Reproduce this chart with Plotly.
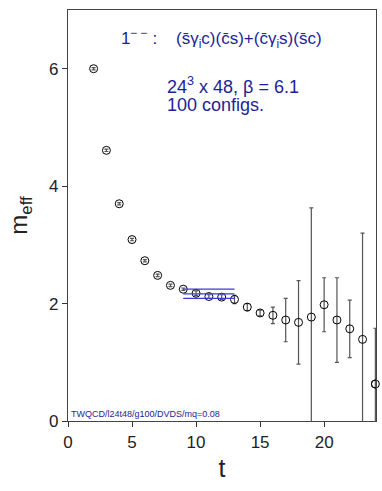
import plotly.graph_objects as go

# effective mass data
t = list(range(2, 25))
m_eff = [6.00, 4.61, 3.70, 3.09, 2.73, 2.48, 2.31, 2.245, 2.175, 2.12, 2.11, 2.07,
         1.94, 1.84, 1.80, 1.72, 1.68, 1.77, 1.98, 1.72, 1.57, 1.39, 0.63]
m_err = [0.02, 0.02, 0.02, 0.02, 0.02, 0.02, 0.02, 0.02, 0.04, 0.03, 0.04, 0.07,
         0.06, 0.05, 0.14, 0.37, 0.71, 1.86, 0.46, 0.72, 0.49, 1.81, 0.95]

# fit band over t = 9..13
fit_t = [9, 13]
fit_mid = 2.165
fit_hi = 2.245
fit_lo = 2.09

navy = '#1e1e96'
font = 'Liberation Sans, Arial, sans-serif'

fig = go.Figure()

fig.add_trace(go.Scatter(
    x=t, y=m_eff,
    mode='markers',
    marker=dict(symbol='circle-open', size=8, color='black', line=dict(width=1)),
    error_y=dict(type='data', array=m_err, visible=True,
                 color='#555555', thickness=1.2, width=2),
    showlegend=False,
))

# last point sits on the frame, keep its marker unclipped
fig.add_trace(go.Scatter(
    x=t[-1:], y=m_eff[-1:],
    mode='markers',
    marker=dict(symbol='circle-open', size=8, color='black', line=dict(width=1)),
    cliponaxis=False,
    showlegend=False,
))

for level in [fit_hi, fit_mid, fit_lo]:
    fig.add_trace(go.Scatter(
        x=fit_t, y=[level, level],
        mode='lines',
        line=dict(color='#3a3ad6', width=1.2),
        showlegend=False,
    ))

fig.add_annotation(
    x=12.0, y=6.52, xref='x', yref='y', showarrow=False,
    text='1<sup>\u2212 \u2212</sup> :    (s\u0304\u03b3<sub>i</sub>c)(c\u0304s)+(c\u0304\u03b3<sub>i</sub>s)(s\u0304c)',
    font=dict(size=17, color=navy, family=font),
)
fig.add_annotation(
    x=7.55, y=5.72, xref='x', yref='y', showarrow=False, xanchor='left',
    text='24<sup>3</sup> x 48, \u03b2 = 6.1',
    font=dict(size=18, color=navy, family=font),
)
fig.add_annotation(
    x=7.55, y=5.38, xref='x', yref='y', showarrow=False, xanchor='left',
    text='100 configs.',
    font=dict(size=18, color=navy, family=font),
)
fig.add_annotation(
    x=0.1, y=0.12, xref='x', yref='y', showarrow=False, xanchor='left',
    text='TWQCD/l24t48/g100/DVDS/mq=0.08',
    font=dict(size=9, color=navy, family=font),
)

fig.update_layout(
    width=382, height=491,
    margin=dict(l=68, r=6, t=10, b=70),
    plot_bgcolor='white', paper_bgcolor='white',
    font=dict(family=font, color='#222222'),
)
fig.update_xaxes(
    range=[0, 24.05], tickvals=[0, 5, 10, 15, 20],
    ticks='outside', ticklen=5, tickcolor='#333333',
    showline=True, linecolor='#444444', linewidth=1.2, mirror=True,
    showgrid=False, zeroline=False, automargin=False,
    tickfont=dict(size=17),
    title=dict(text='t', font=dict(size=25), standoff=8),
)
fig.update_yaxes(
    range=[0, 7], tickvals=[0, 2, 4, 6],
    ticks='outside', ticklen=5, tickcolor='#333333',
    showline=True, linecolor='#444444', linewidth=1.2, mirror=True,
    showgrid=False, zeroline=False, automargin=False,
    tickfont=dict(size=17),
    title=dict(text='m<sub>eff</sub>', font=dict(size=24), standoff=14),
)

# page body has a default margin; drop it so the figure sits at the window origin
fig.write_html('out.html', config={'displayModeBar': False},
               post_script="document.body.style.margin='0';")
